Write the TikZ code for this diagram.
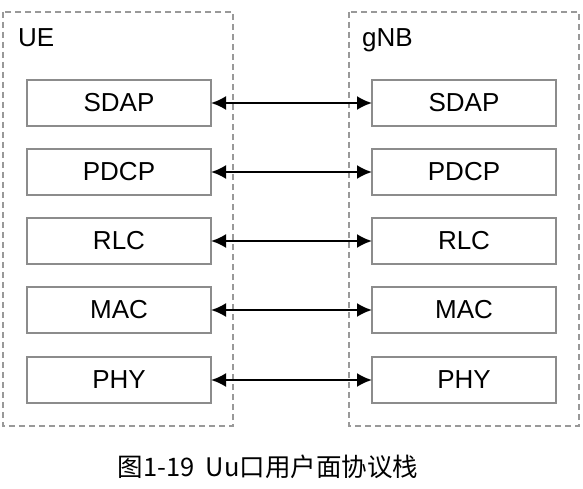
\documentclass[tikz,border=0pt]{standalone}
\usepackage{fontspec}
\setmainfont{Liberation Sans}
\newfontfamily\cjk{Noto Sans CJK SC}
\usetikzlibrary{positioning,arrows.meta}

\begin{document}
\begin{tikzpicture}[x=1pt, y=-1pt,
    layer/.style={draw=black!45, line width=1.2pt, minimum width=184pt, minimum height=46pt,
      inner sep=0, outer sep=0, font=\fontsize{26}{30}\selectfont},
    side/.style={draw=black!40, line width=1.1pt, dash pattern=on 6pt off 4pt},
    tag/.style={anchor=base west, inner sep=0, font=\fontsize{26}{30}\selectfont},
    link/.style={{Latex[length=15pt,width=14pt]}-{Latex[length=15pt,width=14pt]}, line width=2.2pt}
  ]
  \useasboundingbox (0,0) rectangle (583,489);
  % the two sides
  \draw[side] (3,12) rectangle (233,426);
  \draw[side] (349,12) rectangle (579,426);
  \node[tag] (ue) at (18,47) {UE};
  \node[tag] (gnb) at (362,47) {gNB};
  % protocol layers
  \foreach \name/\y [count=\i] in {SDAP/103,PDCP/172,RLC/241,MAC/310,PHY/380} {
    \node[layer] (L\i) at (119,\y) {\name};
    \node[layer] (R\i) at (464,\y) {\name};
    \draw[link] (L\i) -- (R\i);
  }
  \node[font=\cjk\fontsize{25.5}{30}\selectfont] (cap) at (268,467) {图1-19\ \ Uu口用户面协议栈};
\end{tikzpicture}
\end{document}
